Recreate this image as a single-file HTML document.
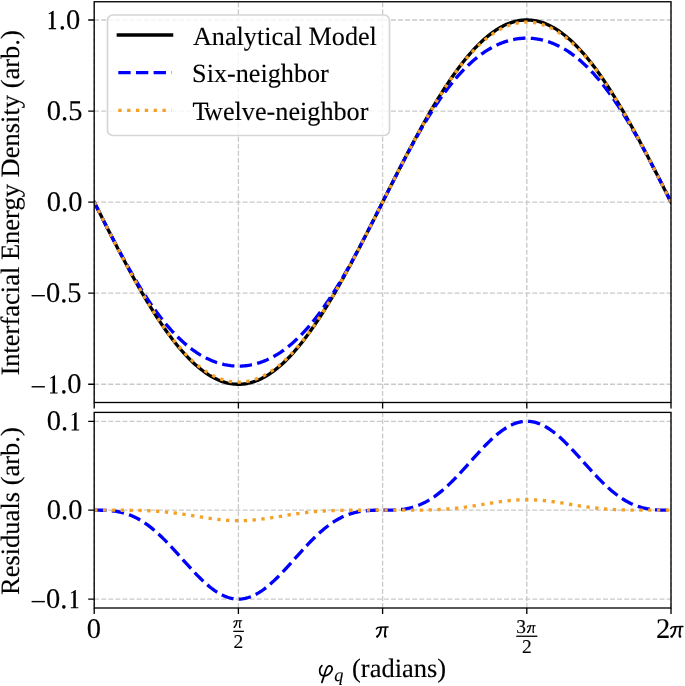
<!DOCTYPE html>
<html><head><meta charset="utf-8"><style>
html,body{margin:0;padding:0;background:#fff;}
body{width:685px;height:686px;overflow:hidden;}
svg{display:block;will-change:transform;}
text{font-family:"Liberation Serif",serif;text-rendering:geometricPrecision;stroke:#000;stroke-width:0.12px;}
</style></head><body>
<svg width="685" height="686" viewBox="0 0 685 686">
<defs><clipPath id="ct"><rect x="94.20" y="1.75" width="576.80" height="400.75"/></clipPath>
<clipPath id="cb"><rect x="94.20" y="412.40" width="576.80" height="195.60"/></clipPath></defs>
<rect width="685" height="686" fill="#fff"/>
<g fill="none" stroke="#c9c9c9" stroke-width="1.33" stroke-dasharray="4.9333 2.1333"><path d="M94.20 384.28 H671.00"/><path d="M94.20 293.20 H671.00"/><path d="M94.20 202.12 H671.00"/><path d="M94.20 111.05 H671.00"/><path d="M94.20 19.97 H671.00"/><path d="M94.20 403.10 V1.75"/><path d="M238.40 403.10 V1.75"/><path d="M382.60 403.10 V1.75"/><path d="M526.80 403.10 V1.75"/><path d="M671.00 403.10 V1.75"/><path d="M94.20 599.11 H671.00"/><path d="M94.20 510.20 H671.00"/><path d="M94.20 421.29 H671.00"/><path d="M94.20 608.00 V412.40"/><path d="M238.40 608.00 V412.40"/><path d="M382.60 608.00 V412.40"/><path d="M526.80 608.00 V412.40"/><path d="M671.00 608.00 V412.40"/></g>
<g clip-path="url(#ct)" fill="none" stroke-width="3.33">
<path d="M94.20 202.12 L95.81 205.31 L97.41 208.50 L99.02 211.69 L100.63 214.87 L102.23 218.05 L103.84 221.22 L105.45 224.39 L107.05 227.55 L108.66 230.70 L110.27 233.84 L111.87 236.98 L113.48 240.10 L115.09 243.21 L116.69 246.31 L118.30 249.40 L119.91 252.47 L121.51 255.53 L123.12 258.57 L124.73 261.59 L126.33 264.59 L127.94 267.58 L129.55 270.54 L131.15 273.49 L132.76 276.41 L134.37 279.31 L135.97 282.19 L137.58 285.04 L139.19 287.86 L140.79 290.66 L142.40 293.43 L144.01 296.18 L145.61 298.89 L147.22 301.58 L148.83 304.24 L150.43 306.86 L152.04 309.45 L153.65 312.01 L155.25 314.54 L156.86 317.03 L158.47 319.49 L160.07 321.91 L161.68 324.29 L163.29 326.64 L164.89 328.94 L166.50 331.21 L168.11 333.44 L169.71 335.63 L171.32 337.78 L172.93 339.89 L174.53 341.95 L176.14 343.97 L177.75 345.95 L179.35 347.89 L180.96 349.78 L182.57 351.62 L184.17 353.42 L185.78 355.17 L187.39 356.88 L188.99 358.53 L190.60 360.14 L192.21 361.71 L193.81 363.22 L195.42 364.68 L197.03 366.10 L198.63 367.46 L200.24 368.77 L201.85 370.03 L203.45 371.24 L205.06 372.40 L206.67 373.51 L208.27 374.56 L209.88 375.56 L211.49 376.51 L213.09 377.41 L214.70 378.25 L216.31 379.03 L217.91 379.77 L219.52 380.45 L221.13 381.07 L222.73 381.64 L224.34 382.15 L225.95 382.61 L227.55 383.01 L229.16 383.36 L230.77 383.65 L232.37 383.89 L233.98 384.07 L235.59 384.20 L237.19 384.27 L238.80 384.28 L240.41 384.24 L242.02 384.14 L243.62 383.99 L245.23 383.78 L246.84 383.52 L248.44 383.20 L250.05 382.82 L251.66 382.39 L253.26 381.90 L254.87 381.36 L256.48 380.76 L258.08 380.11 L259.69 379.41 L261.30 378.65 L262.90 377.83 L264.51 376.97 L266.12 376.05 L267.72 375.07 L269.33 374.04 L270.94 372.96 L272.54 371.83 L274.15 370.65 L275.76 369.41 L277.36 368.12 L278.97 366.78 L280.58 365.40 L282.18 363.96 L283.79 362.47 L285.40 360.93 L287.00 359.35 L288.61 357.71 L290.22 356.03 L291.82 354.30 L293.43 352.52 L295.04 350.70 L296.64 348.84 L298.25 346.92 L299.86 344.97 L301.46 342.97 L303.07 340.92 L304.68 338.84 L306.28 336.71 L307.89 334.54 L309.50 332.33 L311.10 330.08 L312.71 327.79 L314.32 325.47 L315.92 323.10 L317.53 320.70 L319.14 318.26 L320.74 315.79 L322.35 313.28 L323.96 310.74 L325.56 308.16 L327.17 305.55 L328.78 302.91 L330.38 300.24 L331.99 297.54 L333.60 294.81 L335.20 292.05 L336.81 289.27 L338.42 286.45 L340.02 283.61 L341.63 280.75 L343.24 277.86 L344.84 274.95 L346.45 272.02 L348.06 269.06 L349.66 266.09 L351.27 263.09 L352.88 260.08 L354.48 257.05 L356.09 254.00 L357.70 250.94 L359.30 247.86 L360.91 244.77 L362.52 241.66 L364.12 238.54 L365.73 235.41 L367.34 232.27 L368.94 229.12 L370.55 225.97 L372.16 222.80 L373.76 219.63 L375.37 216.46 L376.98 213.28 L378.58 210.09 L380.19 206.91 L381.80 203.72 L383.40 200.53 L385.01 197.34 L386.62 194.16 L388.22 190.97 L389.83 187.79 L391.44 184.62 L393.04 181.45 L394.65 178.28 L396.26 175.13 L397.86 171.98 L399.47 168.84 L401.08 165.71 L402.68 162.59 L404.29 159.48 L405.90 156.39 L407.50 153.31 L409.11 150.25 L410.72 147.20 L412.32 144.17 L413.93 141.16 L415.54 138.16 L417.14 135.19 L418.75 132.23 L420.36 129.30 L421.96 126.39 L423.57 123.50 L425.18 120.64 L426.78 117.80 L428.39 114.98 L430.00 112.20 L431.60 109.44 L433.21 106.71 L434.82 104.01 L436.42 101.34 L438.03 98.70 L439.64 96.09 L441.24 93.51 L442.85 90.97 L444.46 88.46 L446.06 85.99 L447.67 83.55 L449.28 81.15 L450.88 78.78 L452.49 76.46 L454.10 74.17 L455.70 71.92 L457.31 69.71 L458.92 67.54 L460.52 65.41 L462.13 63.33 L463.74 61.28 L465.34 59.28 L466.95 57.33 L468.56 55.41 L470.16 53.55 L471.77 51.73 L473.38 49.95 L474.98 48.22 L476.59 46.54 L478.20 44.90 L479.80 43.32 L481.41 41.78 L483.02 40.29 L484.62 38.85 L486.23 37.47 L487.84 36.13 L489.44 34.84 L491.05 33.60 L492.66 32.42 L494.26 31.29 L495.87 30.21 L497.48 29.18 L499.08 28.20 L500.69 27.28 L502.30 26.42 L503.90 25.60 L505.51 24.84 L507.12 24.14 L508.72 23.49 L510.33 22.89 L511.94 22.35 L513.54 21.86 L515.15 21.43 L516.76 21.05 L518.36 20.73 L519.97 20.47 L521.58 20.26 L523.18 20.11 L524.79 20.01 L526.40 19.97 L528.01 19.98 L529.61 20.05 L531.22 20.18 L532.83 20.36 L534.43 20.60 L536.04 20.89 L537.65 21.24 L539.25 21.64 L540.86 22.10 L542.47 22.61 L544.07 23.18 L545.68 23.80 L547.29 24.48 L548.89 25.22 L550.50 26.00 L552.11 26.84 L553.71 27.74 L555.32 28.69 L556.93 29.69 L558.53 30.74 L560.14 31.85 L561.75 33.01 L563.35 34.22 L564.96 35.48 L566.57 36.79 L568.17 38.15 L569.78 39.57 L571.39 41.03 L572.99 42.54 L574.60 44.11 L576.21 45.72 L577.81 47.37 L579.42 49.08 L581.03 50.83 L582.63 52.63 L584.24 54.47 L585.85 56.36 L587.45 58.30 L589.06 60.28 L590.67 62.30 L592.27 64.36 L593.88 66.47 L595.49 68.62 L597.09 70.81 L598.70 73.04 L600.31 75.31 L601.91 77.61 L603.52 79.96 L605.13 82.34 L606.73 84.76 L608.34 87.22 L609.95 89.71 L611.55 92.24 L613.16 94.80 L614.77 97.39 L616.37 100.01 L617.98 102.67 L619.59 105.36 L621.19 108.07 L622.80 110.82 L624.41 113.59 L626.01 116.39 L627.62 119.21 L629.23 122.06 L630.83 124.94 L632.44 127.84 L634.05 130.76 L635.65 133.71 L637.26 136.67 L638.87 139.66 L640.47 142.66 L642.08 145.68 L643.69 148.72 L645.29 151.78 L646.90 154.85 L648.51 157.94 L650.11 161.04 L651.72 164.15 L653.33 167.27 L654.93 170.41 L656.54 173.55 L658.15 176.70 L659.75 179.86 L661.36 183.03 L662.97 186.20 L664.57 189.38 L666.18 192.56 L667.79 195.75 L669.39 198.94 L671.00 202.12" stroke="#000" stroke-linecap="square"/>
<path d="M94.20 202.12 L95.81 205.31 L97.41 208.50 L99.02 211.68 L100.63 214.86 L102.23 218.03 L103.84 221.20 L105.45 224.35 L107.05 227.50 L108.66 230.63 L110.27 233.75 L111.87 236.85 L113.48 239.94 L115.09 243.00 L116.69 246.05 L118.30 249.08 L119.91 252.09 L121.51 255.07 L123.12 258.02 L124.73 260.96 L126.33 263.86 L127.94 266.73 L129.55 269.58 L131.15 272.39 L132.76 275.17 L134.37 277.92 L135.97 280.64 L137.58 283.32 L139.19 285.96 L140.79 288.57 L142.40 291.14 L144.01 293.67 L145.61 296.16 L147.22 298.62 L148.83 301.03 L150.43 303.40 L152.04 305.73 L153.65 308.01 L155.25 310.26 L156.86 312.46 L158.47 314.61 L160.07 316.73 L161.68 318.79 L163.29 320.82 L164.89 322.80 L166.50 324.73 L168.11 326.62 L169.71 328.46 L171.32 330.26 L172.93 332.01 L174.53 333.71 L176.14 335.37 L177.75 336.99 L179.35 338.55 L180.96 340.07 L182.57 341.55 L184.17 342.98 L185.78 344.37 L187.39 345.71 L188.99 347.00 L190.60 348.25 L192.21 349.46 L193.81 350.62 L195.42 351.74 L197.03 352.81 L198.63 353.84 L200.24 354.83 L201.85 355.77 L203.45 356.67 L205.06 357.52 L206.67 358.34 L208.27 359.11 L209.88 359.84 L211.49 360.53 L213.09 361.18 L214.70 361.78 L216.31 362.35 L217.91 362.87 L219.52 363.36 L221.13 363.80 L222.73 364.20 L224.34 364.57 L225.95 364.89 L227.55 365.18 L229.16 365.42 L230.77 365.63 L232.37 365.79 L233.98 365.92 L235.59 366.01 L237.19 366.06 L238.80 366.07 L240.41 366.04 L242.02 365.97 L243.62 365.86 L245.23 365.72 L246.84 365.53 L248.44 365.30 L250.05 365.04 L251.66 364.74 L253.26 364.39 L254.87 364.01 L256.48 363.58 L258.08 363.12 L259.69 362.62 L261.30 362.07 L262.90 361.49 L264.51 360.86 L266.12 360.19 L267.72 359.48 L269.33 358.73 L270.94 357.94 L272.54 357.10 L274.15 356.22 L275.76 355.30 L277.36 354.34 L278.97 353.33 L280.58 352.28 L282.18 351.18 L283.79 350.04 L285.40 348.86 L287.00 347.63 L288.61 346.36 L290.22 345.04 L291.82 343.68 L293.43 342.27 L295.04 340.82 L296.64 339.32 L298.25 337.77 L299.86 336.18 L301.46 334.55 L303.07 332.87 L304.68 331.14 L306.28 329.36 L307.89 327.54 L309.50 325.68 L311.10 323.77 L312.71 321.81 L314.32 319.81 L315.92 317.77 L317.53 315.68 L319.14 313.54 L320.74 311.36 L322.35 309.14 L323.96 306.88 L325.56 304.57 L327.17 302.22 L328.78 299.83 L330.38 297.40 L331.99 294.92 L333.60 292.41 L335.20 289.86 L336.81 287.27 L338.42 284.65 L340.02 281.98 L341.63 279.29 L343.24 276.55 L344.84 273.79 L346.45 270.99 L348.06 268.16 L349.66 265.30 L351.27 262.41 L352.88 259.49 L354.48 256.55 L356.09 253.58 L357.70 250.59 L359.30 247.57 L360.91 244.53 L362.52 241.47 L364.12 238.40 L365.73 235.30 L367.34 232.19 L368.94 229.06 L370.55 225.93 L372.16 222.78 L373.76 219.62 L375.37 216.45 L376.98 213.27 L378.58 210.09 L380.19 206.91 L381.80 203.72 L383.40 200.53 L385.01 197.34 L386.62 194.16 L388.22 190.98 L389.83 187.80 L391.44 184.63 L393.04 181.47 L394.65 178.32 L396.26 175.19 L397.86 172.06 L399.47 168.95 L401.08 165.85 L402.68 162.78 L404.29 159.72 L405.90 156.68 L407.50 153.66 L409.11 150.67 L410.72 147.70 L412.32 144.76 L413.93 141.84 L415.54 138.95 L417.14 136.09 L418.75 133.26 L420.36 130.46 L421.96 127.70 L423.57 124.96 L425.18 122.27 L426.78 119.60 L428.39 116.98 L430.00 114.39 L431.60 111.84 L433.21 109.33 L434.82 106.85 L436.42 104.42 L438.03 102.03 L439.64 99.68 L441.24 97.37 L442.85 95.11 L444.46 92.89 L446.06 90.71 L447.67 88.57 L449.28 86.48 L450.88 84.44 L452.49 82.44 L454.10 80.48 L455.70 78.57 L457.31 76.71 L458.92 74.89 L460.52 73.11 L462.13 71.38 L463.74 69.70 L465.34 68.07 L466.95 66.48 L468.56 64.93 L470.16 63.43 L471.77 61.98 L473.38 60.57 L474.98 59.21 L476.59 57.89 L478.20 56.62 L479.80 55.39 L481.41 54.21 L483.02 53.07 L484.62 51.97 L486.23 50.92 L487.84 49.91 L489.44 48.95 L491.05 48.03 L492.66 47.15 L494.26 46.31 L495.87 45.52 L497.48 44.77 L499.08 44.06 L500.69 43.39 L502.30 42.76 L503.90 42.18 L505.51 41.63 L507.12 41.13 L508.72 40.67 L510.33 40.24 L511.94 39.86 L513.54 39.51 L515.15 39.21 L516.76 38.95 L518.36 38.72 L519.97 38.53 L521.58 38.39 L523.18 38.28 L524.79 38.21 L526.40 38.18 L528.01 38.19 L529.61 38.24 L531.22 38.33 L532.83 38.46 L534.43 38.62 L536.04 38.83 L537.65 39.07 L539.25 39.36 L540.86 39.68 L542.47 40.05 L544.07 40.45 L545.68 40.89 L547.29 41.38 L548.89 41.90 L550.50 42.47 L552.11 43.07 L553.71 43.72 L555.32 44.41 L556.93 45.14 L558.53 45.91 L560.14 46.73 L561.75 47.58 L563.35 48.48 L564.96 49.42 L566.57 50.41 L568.17 51.44 L569.78 52.51 L571.39 53.63 L572.99 54.79 L574.60 56.00 L576.21 57.25 L577.81 58.54 L579.42 59.88 L581.03 61.27 L582.63 62.70 L584.24 64.18 L585.85 65.70 L587.45 67.26 L589.06 68.88 L590.67 70.54 L592.27 72.24 L593.88 73.99 L595.49 75.79 L597.09 77.63 L598.70 79.52 L600.31 81.45 L601.91 83.43 L603.52 85.46 L605.13 87.52 L606.73 89.64 L608.34 91.79 L609.95 93.99 L611.55 96.24 L613.16 98.52 L614.77 100.85 L616.37 103.22 L617.98 105.63 L619.59 108.09 L621.19 110.58 L622.80 113.11 L624.41 115.68 L626.01 118.29 L627.62 120.93 L629.23 123.61 L630.83 126.33 L632.44 129.08 L634.05 131.86 L635.65 134.67 L637.26 137.52 L638.87 140.39 L640.47 143.29 L642.08 146.23 L643.69 149.18 L645.29 152.16 L646.90 155.17 L648.51 158.20 L650.11 161.25 L651.72 164.31 L653.33 167.40 L654.93 170.50 L656.54 173.62 L658.15 176.75 L659.75 179.90 L661.36 183.05 L662.97 186.22 L664.57 189.39 L666.18 192.57 L667.79 195.75 L669.39 198.94 L671.00 202.12" stroke="#0000ff" stroke-dasharray="12.3333 5.3333"/>
<path d="M94.20 202.12 L95.81 205.31 L97.41 208.50 L99.02 211.69 L100.63 214.87 L102.23 218.05 L103.84 221.22 L105.45 224.39 L107.05 227.55 L108.66 230.70 L110.27 233.84 L111.87 236.98 L113.48 240.10 L115.09 243.21 L116.69 246.31 L118.30 249.40 L119.91 252.47 L121.51 255.52 L123.12 258.56 L124.73 261.58 L126.33 264.58 L127.94 267.57 L129.55 270.53 L131.15 273.47 L132.76 276.39 L134.37 279.28 L135.97 282.15 L137.58 284.99 L139.19 287.81 L140.79 290.60 L142.40 293.37 L144.01 296.10 L145.61 298.80 L147.22 301.48 L148.83 304.12 L150.43 306.73 L152.04 309.30 L153.65 311.84 L155.25 314.35 L156.86 316.81 L158.47 319.25 L160.07 321.64 L161.68 324.00 L163.29 326.31 L164.89 328.59 L166.50 330.83 L168.11 333.02 L169.71 335.18 L171.32 337.29 L172.93 339.35 L174.53 341.38 L176.14 343.36 L177.75 345.29 L179.35 347.18 L180.96 349.02 L182.57 350.82 L184.17 352.57 L185.78 354.27 L187.39 355.93 L188.99 357.53 L190.60 359.09 L192.21 360.60 L193.81 362.06 L195.42 363.47 L197.03 364.83 L198.63 366.14 L200.24 367.40 L201.85 368.60 L203.45 369.76 L205.06 370.87 L206.67 371.92 L208.27 372.93 L209.88 373.88 L211.49 374.78 L213.09 375.63 L214.70 376.43 L216.31 377.18 L217.91 377.87 L219.52 378.51 L221.13 379.10 L222.73 379.64 L224.34 380.13 L225.95 380.56 L227.55 380.94 L229.16 381.27 L230.77 381.54 L232.37 381.77 L233.98 381.94 L235.59 382.05 L237.19 382.12 L238.80 382.13 L240.41 382.09 L242.02 382.00 L243.62 381.86 L245.23 381.66 L246.84 381.41 L248.44 381.11 L250.05 380.76 L251.66 380.35 L253.26 379.89 L254.87 379.38 L256.48 378.81 L258.08 378.20 L259.69 377.53 L261.30 376.81 L262.90 376.04 L264.51 375.22 L266.12 374.34 L267.72 373.41 L269.33 372.43 L270.94 371.40 L272.54 370.32 L274.15 369.19 L275.76 368.01 L277.36 366.77 L278.97 365.49 L280.58 364.15 L282.18 362.77 L283.79 361.33 L285.40 359.85 L287.00 358.32 L288.61 356.73 L290.22 355.10 L291.82 353.43 L293.43 351.70 L295.04 349.93 L296.64 348.11 L298.25 346.24 L299.86 344.33 L301.46 342.37 L303.07 340.37 L304.68 338.33 L306.28 336.24 L307.89 334.11 L309.50 331.93 L311.10 329.72 L312.71 327.46 L314.32 325.16 L315.92 322.82 L317.53 320.45 L319.14 318.04 L320.74 315.59 L322.35 313.10 L323.96 310.58 L325.56 308.02 L327.17 305.43 L328.78 302.80 L330.38 300.14 L331.99 297.46 L333.60 294.74 L335.20 291.99 L336.81 289.21 L338.42 286.41 L340.02 283.58 L341.63 280.72 L343.24 277.84 L344.84 274.93 L346.45 272.00 L348.06 269.05 L349.66 266.08 L351.27 263.08 L352.88 260.07 L354.48 257.04 L356.09 254.00 L357.70 250.93 L359.30 247.86 L360.91 244.76 L362.52 241.66 L364.12 238.54 L365.73 235.41 L367.34 232.27 L368.94 229.12 L370.55 225.97 L372.16 222.80 L373.76 219.63 L375.37 216.46 L376.98 213.28 L378.58 210.09 L380.19 206.91 L381.80 203.72 L383.40 200.53 L385.01 197.34 L386.62 194.16 L388.22 190.97 L389.83 187.79 L391.44 184.62 L393.04 181.45 L394.65 178.28 L396.26 175.13 L397.86 171.98 L399.47 168.84 L401.08 165.71 L402.68 162.59 L404.29 159.49 L405.90 156.39 L407.50 153.32 L409.11 150.25 L410.72 147.21 L412.32 144.18 L413.93 141.17 L415.54 138.17 L417.14 135.20 L418.75 132.25 L420.36 129.32 L421.96 126.41 L423.57 123.53 L425.18 120.67 L426.78 117.84 L428.39 115.04 L430.00 112.26 L431.60 109.51 L433.21 106.79 L434.82 104.11 L436.42 101.45 L438.03 98.82 L439.64 96.23 L441.24 93.67 L442.85 91.15 L444.46 88.66 L446.06 86.21 L447.67 83.80 L449.28 81.43 L450.88 79.09 L452.49 76.79 L454.10 74.53 L455.70 72.32 L457.31 70.14 L458.92 68.01 L460.52 65.92 L462.13 63.88 L463.74 61.88 L465.34 59.92 L466.95 58.01 L468.56 56.14 L470.16 54.32 L471.77 52.55 L473.38 50.82 L474.98 49.15 L476.59 47.52 L478.20 45.93 L479.80 44.40 L481.41 42.92 L483.02 41.48 L484.62 40.10 L486.23 38.76 L487.84 37.48 L489.44 36.24 L491.05 35.06 L492.66 33.93 L494.26 32.85 L495.87 31.82 L497.48 30.84 L499.08 29.91 L500.69 29.03 L502.30 28.21 L503.90 27.44 L505.51 26.72 L507.12 26.05 L508.72 25.44 L510.33 24.87 L511.94 24.36 L513.54 23.90 L515.15 23.49 L516.76 23.14 L518.36 22.84 L519.97 22.59 L521.58 22.39 L523.18 22.25 L524.79 22.16 L526.40 22.12 L528.01 22.13 L529.61 22.20 L531.22 22.31 L532.83 22.48 L534.43 22.71 L536.04 22.98 L537.65 23.31 L539.25 23.69 L540.86 24.12 L542.47 24.61 L544.07 25.15 L545.68 25.74 L547.29 26.38 L548.89 27.07 L550.50 27.82 L552.11 28.62 L553.71 29.47 L555.32 30.37 L556.93 31.32 L558.53 32.33 L560.14 33.38 L561.75 34.49 L563.35 35.65 L564.96 36.85 L566.57 38.11 L568.17 39.42 L569.78 40.78 L571.39 42.19 L572.99 43.65 L574.60 45.16 L576.21 46.72 L577.81 48.32 L579.42 49.98 L581.03 51.68 L582.63 53.43 L584.24 55.23 L585.85 57.07 L587.45 58.96 L589.06 60.89 L590.67 62.87 L592.27 64.90 L593.88 66.96 L595.49 69.07 L597.09 71.23 L598.70 73.42 L600.31 75.66 L601.91 77.94 L603.52 80.25 L605.13 82.61 L606.73 85.00 L608.34 87.44 L609.95 89.90 L611.55 92.41 L613.16 94.95 L614.77 97.52 L616.37 100.13 L617.98 102.77 L619.59 105.45 L621.19 108.15 L622.80 110.88 L624.41 113.65 L626.01 116.44 L627.62 119.26 L629.23 122.10 L630.83 124.97 L632.44 127.86 L634.05 130.78 L635.65 133.72 L637.26 136.68 L638.87 139.67 L640.47 142.67 L642.08 145.69 L643.69 148.73 L645.29 151.78 L646.90 154.85 L648.51 157.94 L650.11 161.04 L651.72 164.15 L653.33 167.27 L654.93 170.41 L656.54 173.55 L658.15 176.70 L659.75 179.86 L661.36 183.03 L662.97 186.20 L664.57 189.38 L666.18 192.56 L667.79 195.75 L669.39 198.94 L671.00 202.12" stroke="#f4a126" stroke-dasharray="3.3333 5.5000"/>
</g>
<g clip-path="url(#cb)" fill="none" stroke-width="3.33">
<path d="M94.20 510.20 L95.81 510.20 L97.41 510.20 L99.02 510.21 L100.63 510.23 L102.23 510.26 L103.84 510.30 L105.45 510.36 L107.05 510.44 L108.66 510.54 L110.27 510.67 L111.87 510.82 L113.48 511.01 L115.09 511.22 L116.69 511.47 L118.30 511.75 L119.91 512.08 L121.51 512.44 L123.12 512.84 L124.73 513.29 L126.33 513.79 L127.94 514.32 L129.55 514.91 L131.15 515.55 L132.76 516.23 L134.37 516.96 L135.97 517.75 L137.58 518.58 L139.19 519.47 L140.79 520.41 L142.40 521.40 L144.01 522.44 L145.61 523.53 L147.22 524.67 L148.83 525.86 L150.43 527.10 L152.04 528.39 L153.65 529.72 L155.25 531.10 L156.86 532.52 L158.47 533.98 L160.07 535.48 L161.68 537.02 L163.29 538.59 L164.89 540.20 L166.50 541.84 L168.11 543.51 L169.71 545.20 L171.32 546.92 L172.93 548.66 L174.53 550.41 L176.14 552.18 L177.75 553.96 L179.35 555.75 L180.96 557.55 L182.57 559.34 L184.17 561.14 L185.78 562.93 L187.39 564.71 L188.99 566.48 L190.60 568.24 L192.21 569.98 L193.81 571.69 L195.42 573.39 L197.03 575.05 L198.63 576.68 L200.24 578.28 L201.85 579.83 L203.45 581.35 L205.06 582.82 L206.67 584.25 L208.27 585.62 L209.88 586.94 L211.49 588.21 L213.09 589.41 L214.70 590.56 L216.31 591.64 L217.91 592.66 L219.52 593.61 L221.13 594.48 L222.73 595.29 L224.34 596.02 L225.95 596.68 L227.55 597.26 L229.16 597.77 L230.77 598.19 L232.37 598.54 L233.98 598.80 L235.59 598.98 L237.19 599.09 L238.80 599.11 L240.41 599.05 L242.02 598.90 L243.62 598.68 L245.23 598.37 L246.84 597.99 L248.44 597.52 L250.05 596.98 L251.66 596.36 L253.26 595.67 L254.87 594.90 L256.48 594.05 L258.08 593.14 L259.69 592.16 L261.30 591.11 L262.90 590.00 L264.51 588.82 L266.12 587.58 L267.72 586.29 L269.33 584.94 L270.94 583.54 L272.54 582.09 L274.15 580.60 L275.76 579.06 L277.36 577.48 L278.97 575.87 L280.58 574.22 L282.18 572.54 L283.79 570.84 L285.40 569.11 L287.00 567.36 L288.61 565.60 L290.22 563.82 L291.82 562.04 L293.43 560.24 L295.04 558.45 L296.64 556.65 L298.25 554.86 L299.86 553.07 L301.46 551.30 L303.07 549.53 L304.68 547.79 L306.28 546.06 L307.89 544.35 L309.50 542.67 L311.10 541.02 L312.71 539.39 L314.32 537.80 L315.92 536.24 L317.53 534.72 L319.14 533.24 L320.74 531.80 L322.35 530.40 L323.96 529.05 L325.56 527.74 L327.17 526.47 L328.78 525.26 L330.38 524.09 L331.99 522.98 L333.60 521.91 L335.20 520.90 L336.81 519.93 L338.42 519.02 L340.02 518.16 L341.63 517.35 L343.24 516.59 L344.84 515.88 L346.45 515.22 L348.06 514.61 L349.66 514.05 L351.27 513.53 L352.88 513.06 L354.48 512.64 L356.09 512.25 L357.70 511.91 L359.30 511.61 L360.91 511.34 L362.52 511.11 L364.12 510.91 L365.73 510.74 L367.34 510.60 L368.94 510.49 L370.55 510.40 L372.16 510.33 L373.76 510.28 L375.37 510.24 L376.98 510.22 L378.58 510.21 L380.19 510.20 L381.80 510.20 L383.40 510.20 L385.01 510.20 L386.62 510.19 L388.22 510.18 L389.83 510.16 L391.44 510.12 L393.04 510.07 L394.65 510.00 L396.26 509.91 L397.86 509.80 L399.47 509.66 L401.08 509.49 L402.68 509.29 L404.29 509.06 L405.90 508.79 L407.50 508.49 L409.11 508.15 L410.72 507.76 L412.32 507.34 L413.93 506.87 L415.54 506.35 L417.14 505.79 L418.75 505.18 L420.36 504.52 L421.96 503.81 L423.57 503.05 L425.18 502.24 L426.78 501.38 L428.39 500.47 L430.00 499.50 L431.60 498.49 L433.21 497.42 L434.82 496.31 L436.42 495.14 L438.03 493.93 L439.64 492.66 L441.24 491.35 L442.85 490.00 L444.46 488.60 L446.06 487.16 L447.67 485.68 L449.28 484.16 L450.88 482.60 L452.49 481.01 L454.10 479.38 L455.70 477.73 L457.31 476.05 L458.92 474.34 L460.52 472.61 L462.13 470.87 L463.74 469.10 L465.34 467.33 L466.95 465.54 L468.56 463.75 L470.16 461.95 L471.77 460.16 L473.38 458.36 L474.98 456.58 L476.59 454.80 L478.20 453.04 L479.80 451.29 L481.41 449.56 L483.02 447.86 L484.62 446.18 L486.23 444.53 L487.84 442.92 L489.44 441.34 L491.05 439.80 L492.66 438.31 L494.26 436.86 L495.87 435.46 L497.48 434.11 L499.08 432.82 L500.69 431.58 L502.30 430.40 L503.90 429.29 L505.51 428.24 L507.12 427.26 L508.72 426.35 L510.33 425.50 L511.94 424.73 L513.54 424.04 L515.15 423.42 L516.76 422.88 L518.36 422.41 L519.97 422.03 L521.58 421.72 L523.18 421.50 L524.79 421.35 L526.40 421.29 L528.01 421.31 L529.61 421.42 L531.22 421.60 L532.83 421.86 L534.43 422.21 L536.04 422.63 L537.65 423.14 L539.25 423.72 L540.86 424.38 L542.47 425.11 L544.07 425.92 L545.68 426.79 L547.29 427.74 L548.89 428.76 L550.50 429.84 L552.11 430.99 L553.71 432.19 L555.32 433.46 L556.93 434.78 L558.53 436.15 L560.14 437.58 L561.75 439.05 L563.35 440.57 L564.96 442.12 L566.57 443.72 L568.17 445.35 L569.78 447.01 L571.39 448.71 L572.99 450.42 L574.60 452.16 L576.21 453.92 L577.81 455.69 L579.42 457.47 L581.03 459.26 L582.63 461.06 L584.24 462.85 L585.85 464.65 L587.45 466.44 L589.06 468.22 L590.67 469.99 L592.27 471.74 L593.88 473.48 L595.49 475.20 L597.09 476.89 L598.70 478.56 L600.31 480.20 L601.91 481.81 L603.52 483.38 L605.13 484.92 L606.73 486.42 L608.34 487.88 L609.95 489.30 L611.55 490.68 L613.16 492.01 L614.77 493.30 L616.37 494.54 L617.98 495.73 L619.59 496.87 L621.19 497.96 L622.80 499.00 L624.41 499.99 L626.01 500.93 L627.62 501.82 L629.23 502.65 L630.83 503.44 L632.44 504.17 L634.05 504.85 L635.65 505.49 L637.26 506.08 L638.87 506.61 L640.47 507.11 L642.08 507.56 L643.69 507.96 L645.29 508.32 L646.90 508.65 L648.51 508.93 L650.11 509.18 L651.72 509.39 L653.33 509.58 L654.93 509.73 L656.54 509.86 L658.15 509.96 L659.75 510.04 L661.36 510.10 L662.97 510.14 L664.57 510.17 L666.18 510.19 L667.79 510.20 L669.39 510.20 L671.00 510.20" stroke="#0000ff" stroke-dasharray="12.3333 5.3333"/>
<path d="M94.20 510.20 L95.81 510.20 L97.41 510.20 L99.02 510.20 L100.63 510.20 L102.23 510.20 L103.84 510.20 L105.45 510.20 L107.05 510.20 L108.66 510.20 L110.27 510.20 L111.87 510.20 L113.48 510.20 L115.09 510.21 L116.69 510.21 L118.30 510.21 L119.91 510.22 L121.51 510.22 L123.12 510.23 L124.73 510.24 L126.33 510.25 L127.94 510.26 L129.55 510.28 L131.15 510.30 L132.76 510.32 L134.37 510.34 L135.97 510.37 L137.58 510.40 L139.19 510.44 L140.79 510.48 L142.40 510.53 L144.01 510.59 L145.61 510.64 L147.22 510.71 L148.83 510.78 L150.43 510.86 L152.04 510.94 L153.65 511.04 L155.25 511.14 L156.86 511.25 L158.47 511.36 L160.07 511.49 L161.68 511.62 L163.29 511.77 L164.89 511.92 L166.50 512.07 L168.11 512.24 L169.71 512.42 L171.32 512.60 L172.93 512.80 L174.53 513.00 L176.14 513.20 L177.75 513.42 L179.35 513.64 L180.96 513.87 L182.57 514.11 L184.17 514.35 L185.78 514.59 L187.39 514.84 L188.99 515.10 L190.60 515.35 L192.21 515.61 L193.81 515.88 L195.42 516.14 L197.03 516.40 L198.63 516.66 L200.24 516.92 L201.85 517.18 L203.45 517.44 L205.06 517.69 L206.67 517.93 L208.27 518.18 L209.88 518.41 L211.49 518.64 L213.09 518.85 L214.70 519.06 L216.31 519.26 L217.91 519.45 L219.52 519.63 L221.13 519.80 L222.73 519.95 L224.34 520.09 L225.95 520.22 L227.55 520.33 L229.16 520.43 L230.77 520.51 L232.37 520.58 L233.98 520.63 L235.59 520.67 L237.19 520.69 L238.80 520.69 L240.41 520.68 L242.02 520.65 L243.62 520.61 L245.23 520.55 L246.84 520.47 L248.44 520.38 L250.05 520.28 L251.66 520.16 L253.26 520.02 L254.87 519.88 L256.48 519.72 L258.08 519.54 L259.69 519.36 L261.30 519.17 L262.90 518.96 L264.51 518.75 L266.12 518.52 L267.72 518.29 L269.33 518.06 L270.94 517.81 L272.54 517.56 L274.15 517.31 L275.76 517.05 L277.36 516.79 L278.97 516.53 L280.58 516.27 L282.18 516.01 L283.79 515.74 L285.40 515.48 L287.00 515.22 L288.61 514.97 L290.22 514.72 L291.82 514.47 L293.43 514.23 L295.04 513.99 L296.64 513.76 L298.25 513.53 L299.86 513.31 L301.46 513.10 L303.07 512.89 L304.68 512.70 L306.28 512.51 L307.89 512.33 L309.50 512.16 L311.10 511.99 L312.71 511.84 L314.32 511.69 L315.92 511.56 L317.53 511.43 L319.14 511.31 L320.74 511.19 L322.35 511.09 L323.96 510.99 L325.56 510.90 L327.17 510.82 L328.78 510.74 L330.38 510.68 L331.99 510.61 L333.60 510.56 L335.20 510.51 L336.81 510.46 L338.42 510.42 L340.02 510.39 L341.63 510.36 L343.24 510.33 L344.84 510.31 L346.45 510.29 L348.06 510.27 L349.66 510.26 L351.27 510.24 L352.88 510.23 L354.48 510.23 L356.09 510.22 L357.70 510.21 L359.30 510.21 L360.91 510.21 L362.52 510.21 L364.12 510.20 L365.73 510.20 L367.34 510.20 L368.94 510.20 L370.55 510.20 L372.16 510.20 L373.76 510.20 L375.37 510.20 L376.98 510.20 L378.58 510.20 L380.19 510.20 L381.80 510.20 L383.40 510.20 L385.01 510.20 L386.62 510.20 L388.22 510.20 L389.83 510.20 L391.44 510.20 L393.04 510.20 L394.65 510.20 L396.26 510.20 L397.86 510.20 L399.47 510.20 L401.08 510.20 L402.68 510.19 L404.29 510.19 L405.90 510.19 L407.50 510.19 L409.11 510.18 L410.72 510.17 L412.32 510.17 L413.93 510.16 L415.54 510.14 L417.14 510.13 L418.75 510.11 L420.36 510.09 L421.96 510.07 L423.57 510.04 L425.18 510.01 L426.78 509.98 L428.39 509.94 L430.00 509.89 L431.60 509.84 L433.21 509.79 L434.82 509.72 L436.42 509.66 L438.03 509.58 L439.64 509.50 L441.24 509.41 L442.85 509.31 L444.46 509.21 L446.06 509.09 L447.67 508.97 L449.28 508.84 L450.88 508.71 L452.49 508.56 L454.10 508.41 L455.70 508.24 L457.31 508.07 L458.92 507.89 L460.52 507.70 L462.13 507.51 L463.74 507.30 L465.34 507.09 L466.95 506.87 L468.56 506.64 L470.16 506.41 L471.77 506.17 L473.38 505.93 L474.98 505.68 L476.59 505.43 L478.20 505.18 L479.80 504.92 L481.41 504.66 L483.02 504.39 L484.62 504.13 L486.23 503.87 L487.84 503.61 L489.44 503.35 L491.05 503.09 L492.66 502.84 L494.26 502.59 L495.87 502.34 L497.48 502.11 L499.08 501.88 L500.69 501.65 L502.30 501.44 L503.90 501.23 L505.51 501.04 L507.12 500.86 L508.72 500.68 L510.33 500.52 L511.94 500.38 L513.54 500.24 L515.15 500.12 L516.76 500.02 L518.36 499.93 L519.97 499.85 L521.58 499.79 L523.18 499.75 L524.79 499.72 L526.40 499.71 L528.01 499.71 L529.61 499.73 L531.22 499.77 L532.83 499.82 L534.43 499.89 L536.04 499.97 L537.65 500.07 L539.25 500.18 L540.86 500.31 L542.47 500.45 L544.07 500.60 L545.68 500.77 L547.29 500.95 L548.89 501.14 L550.50 501.34 L552.11 501.55 L553.71 501.76 L555.32 501.99 L556.93 502.22 L558.53 502.47 L560.14 502.71 L561.75 502.96 L563.35 503.22 L564.96 503.48 L566.57 503.74 L568.17 504.00 L569.78 504.26 L571.39 504.52 L572.99 504.79 L574.60 505.05 L576.21 505.30 L577.81 505.56 L579.42 505.81 L581.03 506.05 L582.63 506.29 L584.24 506.53 L585.85 506.76 L587.45 506.98 L589.06 507.20 L590.67 507.40 L592.27 507.60 L593.88 507.80 L595.49 507.98 L597.09 508.16 L598.70 508.33 L600.31 508.48 L601.91 508.63 L603.52 508.78 L605.13 508.91 L606.73 509.04 L608.34 509.15 L609.95 509.26 L611.55 509.36 L613.16 509.46 L614.77 509.54 L616.37 509.62 L617.98 509.69 L619.59 509.76 L621.19 509.81 L622.80 509.87 L624.41 509.92 L626.01 509.96 L627.62 510.00 L629.23 510.03 L630.83 510.06 L632.44 510.08 L634.05 510.10 L635.65 510.12 L637.26 510.14 L638.87 510.15 L640.47 510.16 L642.08 510.17 L643.69 510.18 L645.29 510.18 L646.90 510.19 L648.51 510.19 L650.11 510.19 L651.72 510.20 L653.33 510.20 L654.93 510.20 L656.54 510.20 L658.15 510.20 L659.75 510.20 L661.36 510.20 L662.97 510.20 L664.57 510.20 L666.18 510.20 L667.79 510.20 L669.39 510.20 L671.00 510.20" stroke="#f4a126" stroke-dasharray="3.3333 5.5000"/>
</g>
<rect x="107.50" y="15.00" width="282.00" height="120.50" rx="5.3" fill="#fff" fill-opacity="0.8" stroke="#d6d6d6" stroke-width="1.67"/>
<path d="M118.30 35.00 H171.60" stroke="#000" stroke-width="3.33" stroke-linecap="square"/>
<path d="M118.30 72.60 H171.60" stroke="#0000ff" stroke-width="3.33" stroke-dasharray="12.3333 5.3333"/>
<path d="M118.30 110.30 H171.60" stroke="#f4a126" stroke-width="3.33" stroke-dasharray="3.3333 5.5000"/>
<g font-family="Liberation Serif" font-size="26.2" fill="#000">
<text x="192.90" y="44.60">Analytical Model</text>
<text x="192.10" y="82.20">Six-neighbor</text>
<text x="192.50" y="119.90">T<tspan dx="-2.6">welve-neighbor</tspan></text>
</g>
<rect x="94.20" y="1.75" width="576.80" height="400.75" fill="none" stroke="#000" stroke-width="1.33"/>
<rect x="94.20" y="412.40" width="576.80" height="195.60" fill="none" stroke="#000" stroke-width="1.33"/>
<path d="M94.20 384.28 H88.20 M94.20 293.20 H88.20 M94.20 202.12 H88.20 M94.20 111.05 H88.20 M94.20 19.97 H88.20 M94.20 599.11 H88.20 M94.20 510.20 H88.20 M94.20 421.29 H88.20 M94.20 402.50 V408.50 M94.20 608.00 V614.00 M238.40 402.50 V408.50 M238.40 608.00 V614.00 M382.60 402.50 V408.50 M382.60 608.00 V614.00 M526.80 402.50 V408.50 M526.80 608.00 V614.00 M671.00 402.50 V408.50 M671.00 608.00 V614.00" stroke="#000" stroke-width="1.33" fill="none"/>
<g font-family="Liberation Serif" font-size="28.5" fill="#000" text-anchor="end">
<text x="80.20" y="29.17">.0</text>
<text x="82.40" y="120.25">0.5</text>
<text x="82.40" y="211.32">0.0</text>
<text x="81.60" y="302.40">0.5</text>
<text x="81.60" y="393.48">.0</text>
<text x="68.15" y="430.49">0.</text>
<text x="82.40" y="519.40">0.0</text>
<text x="67.35" y="608.31">0.</text>
</g>
<path d="M53.65 10.87 L53.65 28.07 L55.40 28.12 L56.15 28.17 L56.15 29.17 L48.65 29.17 L48.65 28.17 L49.40 28.12 L51.15 28.07 L51.15 13.47 L49.00 14.27 L48.45 13.87 L53.10 10.87Z M55.05 375.18 L55.05 392.38 L56.80 392.43 L57.55 392.48 L57.55 393.48 L50.05 393.48 L50.05 392.48 L50.80 392.43 L52.55 392.38 L52.55 377.78 L50.40 378.58 L49.85 378.18 L54.50 375.18Z M76.62 412.19 L76.62 429.39 L78.38 429.44 L79.12 429.49 L79.12 430.49 L71.62 430.49 L71.62 429.49 L72.38 429.44 L74.12 429.39 L74.12 414.79 L71.97 415.59 L71.42 415.19 L76.08 412.19Z M75.82 590.01 L75.82 607.21 L77.57 607.26 L78.32 607.31 L78.32 608.31 L70.82 608.31 L70.82 607.31 L71.57 607.26 L73.32 607.21 L73.32 592.61 L71.17 593.41 L70.62 593.01 L75.27 590.01Z" fill="#000"/>
<rect x="31.6" y="295.00" width="13.3" height="1.4"/>
<rect x="31.6" y="386.08" width="13.3" height="1.4"/>
<rect x="31.6" y="600.91" width="13.3" height="1.4"/>
<g font-family="Liberation Serif" font-size="28.5" fill="#000">
<text x="93.80" y="637.60" text-anchor="middle">0</text>
<text x="655.9" y="637.60">2</text>
</g>
<g transform="translate(376.10 637.50) scale(1.000)" fill="none" stroke="#000" stroke-linecap="round"><path d="M0.3 -8.6 Q1.3 -10.3 3.2 -10.3 L12.0 -10.5" stroke-width="1.5"/><path d="M4.9 -9.8 C4.7 -6.3 3.5 -3.0 1.3 -1.0" stroke-width="1.9"/><path d="M9.5 -9.8 C9.1 -7.0 8.6 -4.0 8.8 -1.6" stroke-width="1.8"/><circle cx="1.1" cy="-0.95" r="1.15" fill="#000" stroke="none"/><circle cx="9.3" cy="-1.05" r="1.2" fill="#000" stroke="none"/></g>
<g transform="translate(670.40 637.50) scale(1.040)" fill="none" stroke="#000" stroke-linecap="round"><path d="M0.3 -8.6 Q1.3 -10.3 3.2 -10.3 L12.0 -10.5" stroke-width="1.5"/><path d="M4.9 -9.8 C4.7 -6.3 3.5 -3.0 1.3 -1.0" stroke-width="1.9"/><path d="M9.5 -9.8 C9.1 -7.0 8.6 -4.0 8.8 -1.6" stroke-width="1.8"/><circle cx="1.1" cy="-0.95" r="1.15" fill="#000" stroke="none"/><circle cx="9.3" cy="-1.05" r="1.2" fill="#000" stroke="none"/></g>
<g font-family="Liberation Serif" font-size="19.5" fill="#000" text-anchor="middle">
<rect x="233.30" y="630.7" width="10.6" height="1.3"/>
<text x="238.40" y="647.8">2</text>
<text x="516.30" y="633.0" text-anchor="start">3</text>
<rect x="516.20" y="635.6" width="21.2" height="1.3"/>
<text x="526.80" y="652.6">2</text>
</g>
<g transform="translate(233.50 627.90) scale(0.690)" fill="none" stroke="#000" stroke-linecap="round"><path d="M0.3 -8.6 Q1.3 -10.3 3.2 -10.3 L12.0 -10.5" stroke-width="1.5"/><path d="M4.9 -9.8 C4.7 -6.3 3.5 -3.0 1.3 -1.0" stroke-width="1.9"/><path d="M9.5 -9.8 C9.1 -7.0 8.6 -4.0 8.8 -1.6" stroke-width="1.8"/><circle cx="1.1" cy="-0.95" r="1.15" fill="#000" stroke="none"/><circle cx="9.3" cy="-1.05" r="1.2" fill="#000" stroke="none"/></g>
<g transform="translate(527.00 632.90) scale(0.690)" fill="none" stroke="#000" stroke-linecap="round"><path d="M0.3 -8.6 Q1.3 -10.3 3.2 -10.3 L12.0 -10.5" stroke-width="1.5"/><path d="M4.9 -9.8 C4.7 -6.3 3.5 -3.0 1.3 -1.0" stroke-width="1.9"/><path d="M9.5 -9.8 C9.1 -7.0 8.6 -4.0 8.8 -1.6" stroke-width="1.8"/><circle cx="1.1" cy="-0.95" r="1.15" fill="#000" stroke="none"/><circle cx="9.3" cy="-1.05" r="1.2" fill="#000" stroke="none"/></g>
<g font-family="Liberation Serif" font-size="26.5" fill="#000" text-anchor="middle">
<text transform="translate(19.4 202.93) rotate(-90)">Interfacial Energy Density (arb.)</text>
<text transform="translate(19.4 511.10) rotate(-90)">Residuals (arb.)</text>
<path d="M321.9 665.6 C319.9 667.6 319.2 671.0 320.2 673.6 C321.1 676.0 324.6 676.5 327.6 674.9 C331.4 672.9 333.0 669.0 331.7 666.9 C330.5 665.0 327.8 665.6 326.7 668.0 C325.5 670.8 324.6 674.0 323.9 676.4 L321.9 682.4" fill="none" stroke="#000" stroke-width="1.75" stroke-linecap="round"/>
<text x="334.2" y="680.9" font-style="italic" font-size="18.3" text-anchor="start">q</text>
<text x="352.0" y="677.1" text-anchor="start">(radians)</text>
</g>
</svg>
</body></html>
